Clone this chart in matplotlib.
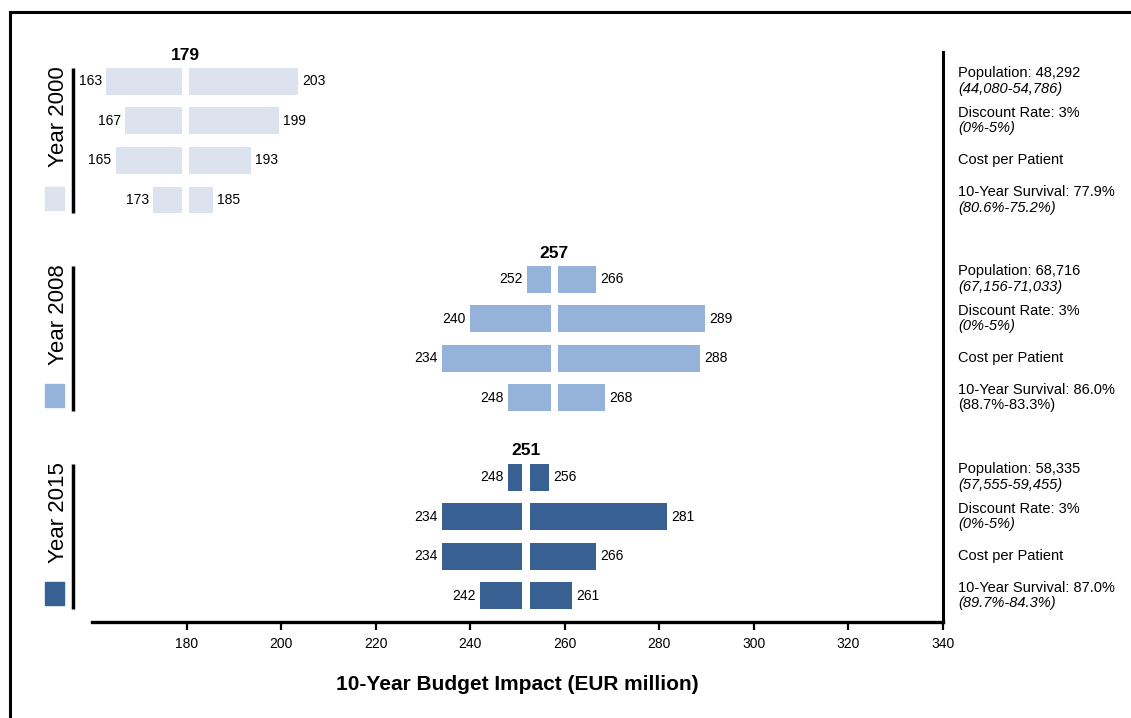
import matplotlib.pyplot as plt
from matplotlib.lines import Line2D
from matplotlib.patches import Rectangle
import matplotlib.transforms as mtransforms

plt.rcParams['font.family'] = ['Liberation Sans', 'DejaVu Sans']

years = ['Year 2000', 'Year 2008', 'Year 2015']
colors = ['#dce3ef', '#95b3da', '#386093']
base = [179, 257, 251]
low = [[163, 167, 165, 173],
       [252, 240, 234, 248],
       [248, 234, 234, 242]]
high = [[203, 199, 193, 185],
        [266, 289, 288, 268],
        [256, 281, 266, 261]]

# right-hand parameter labels: (main line, range line, italic range?)
params = [
    [('Population: 48,292', '(44,080-54,786)', True),
     ('Discount Rate: 3%', '(0%-5%)', True),
     ('Cost per Patient', None, True),
     ('10-Year Survival: 77.9%', '(80.6%-75.2%)', True)],
    [('Population: 68,716', '(67,156-71,033)', True),
     ('Discount Rate: 3%', '(0%-5%)', True),
     ('Cost per Patient', None, True),
     ('10-Year Survival: 86.0%', '(88.7%-83.3%)', False)],
    [('Population: 58,335', '(57,555-59,455)', True),
     ('Discount Rate: 3%', '(0%-5%)', True),
     ('Cost per Patient', None, True),
     ('10-Year Survival: 87.0%', '(89.7%-84.3%)', True)],
]

ticks = [180, 200, 220, 240, 260, 280, 300, 320, 340]

fig = plt.figure(figsize=(11.31, 7.18), dpi=100)
ax = fig.add_axes([0.0813, 0.1337, 0.7525, 0.7939])

gap = 1.6
h = 0.68
tr = mtransforms.blended_transform_factory(ax.transAxes, ax.transData)

for g in range(3):
    r0 = g * 5
    for i in range(4):
        y = r0 + i
        lo, hi, b = low[g][i], high[g][i], base[g]
        ax.barh(y, b - lo, left=lo, height=h, color=colors[g])
        ax.barh(y, hi + 0.6 - (b + gap), left=b + gap, height=h, color=colors[g])
        ax.annotate(str(lo), (lo, y), xytext=(-3, 0), textcoords='offset points',
                    ha='right', va='center', fontsize=10)
        ax.annotate(str(hi), (hi + 0.6, y), xytext=(3, 0), textcoords='offset points',
                    ha='left', va='center', fontsize=10)
        main, rng, ital = params[g][i]
        if rng is None:
            ax.annotate(main, (1, y), xycoords=tr, xytext=(11, 0),
                        textcoords='offset points', ha='left', va='center', fontsize=10.5)
        else:
            ax.annotate(main, (1, y), xycoords=tr, xytext=(11, 5.6),
                        textcoords='offset points', ha='left', va='center', fontsize=10.5)
            ax.annotate(rng, (1, y), xycoords=tr, xytext=(11, -5.4),
                        textcoords='offset points', ha='left', va='center', fontsize=10.5,
                        style='italic' if ital else 'normal')
    # base value on top
    ax.text(base[g] + gap / 2, r0 - 0.66, str(base[g]), ha='center', va='center',
            fontsize=12.5, fontweight='bold')
    # group bracket
    ax.plot([-0.0223, -0.0223], [r0 - h / 2, r0 + 3 + h / 2], transform=tr,
            color='black', lw=2.5, clip_on=False, solid_capstyle='butt')
    # year label
    ax.text(-0.039, r0 - h / 2 - 0.05, years[g], transform=tr, rotation=90,
            ha='center', va='top', fontsize=16)
    # legend swatch
    ax.add_patch(Rectangle((-0.0552, r0 + 3 - 0.34), 0.0223, 0.58, transform=tr,
                           color=colors[g], clip_on=False))

ax.set_xlim(160, 340)
ax.set_ylim(13.66, -0.74)
ax.set_xticks(ticks)
ax.set_yticks([])
ax.tick_params(axis='x', direction='out', length=6, width=1.6, labelsize=10, pad=5)
ax.spines['top'].set_visible(False)
ax.spines['left'].set_visible(False)
ax.spines['bottom'].set_linewidth(2.4)
ax.spines['right'].set_linewidth(2.2)
ax.set_xlabel('10-Year Budget Impact (EUR million)', fontsize=15, fontweight='bold',
              labelpad=17)

# outer frame lines
fig.add_artist(Line2D([0.00884, 1.0], [0.9833, 0.9833], color='black', lw=2.2))
fig.add_artist(Line2D([0.00884, 0.00884], [0.0, 0.9833], color='black', lw=2.2))

fig.savefig('out.png', dpi=100)
